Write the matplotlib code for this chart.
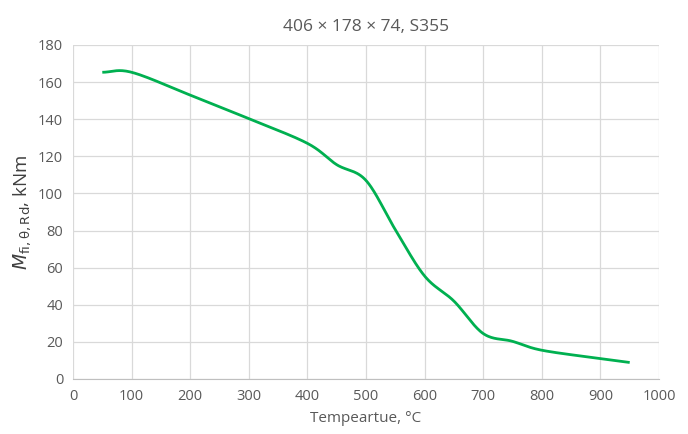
import numpy as np
import matplotlib
matplotlib.use("Agg")
from matplotlib import pyplot as plt

# data
temps = [50, 100, 200, 300, 400, 450, 500, 550, 600, 650, 700, 750, 800, 900, 950]
moment = [165.3, 165.3, 153.0, 140.3, 127.0, 115.5, 107.0, 80.5, 55.5, 42.0, 24.5, 20.3, 15.5, 11.0, 8.9]
x_ticks = list(range(0, 1001, 100))
y_ticks = list(range(0, 181, 20))


def smooth_curve(x, y, n=30):
    # Catmull-Rom through the points, like the spreadsheet "smoothed line"
    x = np.asarray(x, float)
    y = np.asarray(y, float)
    px = np.concatenate([[2 * x[0] - x[1]], x, [2 * x[-1] - x[-2]]])
    py = np.concatenate([[2 * y[0] - y[1]], y, [2 * y[-1] - y[-2]]])
    xs, ys = [], []
    t = np.linspace(0, 1, n)
    for i in range(1, len(px) - 2):
        for arr, out in ((px, xs), (py, ys)):
            p0, p1, p2, p3 = arr[i - 1], arr[i], arr[i + 1], arr[i + 2]
            seg = 0.5 * ((2 * p1) + (-p0 + p2) * t
                         + (2 * p0 - 5 * p1 + 4 * p2 - p3) * t ** 2
                         + (-p0 + 3 * p1 - 3 * p2 + p3) * t ** 3)
            out.extend(seg)
    return np.array(xs), np.array(ys)


def main():
    plt.rcParams['font.family'] = ['Open Sans', 'DejaVu Sans']
    fig = plt.figure(figsize=(6.88, 4.34), dpi=100)
    ax = fig.add_axes([73 / 688, 1 - 379 / 434, 586 / 688, 334 / 434])

    sx, sy = smooth_curve(temps, moment)
    ax.plot(sx, sy, color='#00b050', linewidth=2.0, solid_capstyle='butt')

    ax.set_xlim(0, 1000)
    ax.set_ylim(0, 180)
    ax.set_xticks(x_ticks)
    ax.set_yticks(y_ticks)
    ax.grid(True, color='#d9d9d9', linewidth=0.9)
    ax.set_axisbelow(True)
    for side in ['top', 'right', 'left']:
        ax.spines[side].set_visible(False)
    ax.spines['bottom'].set_color('#bfbfbf')
    ax.tick_params(length=0, labelsize=10.5, colors='#595959', pad=7)

    ax.set_title('406 × 178 × 74, S355', fontsize=12.5, color='#595959', pad=10)
    ax.set_xlabel('Tempeartue, °C', fontsize=11, color='#595959', labelpad=5)
    ax.set_ylabel(r'$M_{\mathrm{fi,\theta,Rd}}$, kNm', fontsize=13.5, color='#404040', labelpad=4)

    fig.savefig('out.png', dpi=100)


if __name__ == "__main__":
    main()
